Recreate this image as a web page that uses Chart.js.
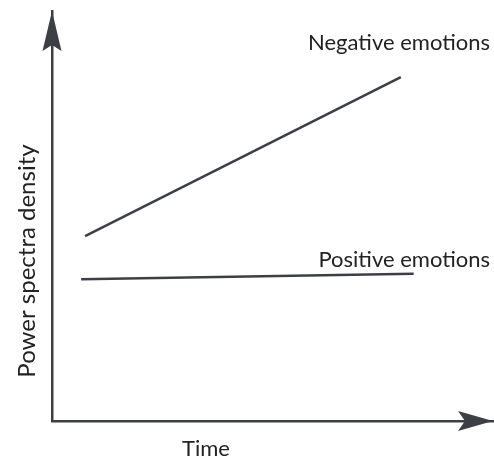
<!DOCTYPE html>
<html>
<head>
<meta charset="utf-8">
<script src="https://cdn.jsdelivr.net/npm/chart.js@4"></script>
<style>
  html, body { margin: 0; padding: 0; background: #fff; }
  #wrap { width: 494px; height: 460px; }
</style>
</head>
<body>
<div id="wrap"><canvas id="c" width="494" height="460"></canvas></div>
<script>
// schematic: two trends over time, axis values are arbitrary units 0..100
const seriesNames = ["Negative emotions", "Positive emotions"];
const negativeX = [7.5, 79.1];
const negativeY = [45.1, 83.9];
const positiveX = [6.6, 82.0];
const positiveY = [34.6, 35.9];
const xTitle = "Time";
const yTitle = "Power spectra density";

const INK = "#3c4045";
const FONT = "Lato, 'Open Sans', sans-serif";

const toPoints = (xs, ys) => xs.map((x, i) => ({ x, y: ys[i] }));

// arrowheads on the axis ends, series names and axis titles
const decorations = {
  id: "decorations",
  afterDraw(chart) {
    const { ctx, chartArea: a } = chart;
    ctx.save();
    ctx.fillStyle = INK;

    // y arrow (pointing up)
    const yx = a.left;
    ctx.beginPath();
    ctx.moveTo(yx, a.top);
    ctx.lineTo(yx + 9.5, a.top + 40);
    ctx.lineTo(yx, a.top + 34);
    ctx.lineTo(yx - 9.5, a.top + 40);
    ctx.closePath();
    ctx.fill();

    // x arrow (pointing right)
    const xy = a.bottom;
    ctx.beginPath();
    ctx.moveTo(a.right, xy);
    ctx.lineTo(a.right - 35, xy - 10);
    ctx.lineTo(a.right - 28, xy);
    ctx.lineTo(a.right - 35, xy + 10);
    ctx.closePath();
    ctx.fill();

    // series names, right aligned above each line end
    ctx.fillStyle = "#222";
    ctx.font = "22px " + FONT;
    ctx.textAlign = "right";
    ctx.textBaseline = "alphabetic";
    const lift = [27, 7];
    chart.data.datasets.forEach((ds, i) => {
      const pts = chart.getDatasetMeta(i).data;
      const end = pts[pts.length - 1];
      ctx.fillText(ds.label, a.right - 3, end.y - lift[i]);
    });

    // axis titles
    ctx.textAlign = "center";
    ctx.fillText(xTitle, 206, 456);
    ctx.save();
    ctx.translate(35, 261);
    ctx.rotate(-Math.PI / 2);
    ctx.font = "24px " + FONT;
    ctx.fillText(yTitle, 0, 0);
    ctx.restore();

    ctx.restore();
  }
};

const axisOpts = {
  type: "linear",
  min: 0,
  max: 100,
  grid: { display: false },
  ticks: { display: false },
  border: { display: true, color: INK, width: 2.5 },
  afterFit(scale) {
    if (scale.isHorizontal()) scale.height = 0; else scale.width = 0;
  }
};

new Chart(document.getElementById("c"), {
  type: "scatter",
  data: {
    datasets: [
      {
        label: seriesNames[0],
        data: toPoints(negativeX, negativeY),
        showLine: true,
        borderColor: INK,
        borderWidth: 2.5,
        pointRadius: 0
      },
      {
        label: seriesNames[1],
        data: toPoints(positiveX, positiveY),
        showLine: true,
        borderColor: INK,
        borderWidth: 2.5,
        pointRadius: 0
      }
    ]
  },
  options: {
    responsive: false,
    animation: false,
    layout: { padding: { left: 52, right: 1, top: 11, bottom: 39 } },
    scales: { x: axisOpts, y: axisOpts },
    plugins: {
      legend: { display: false },
      tooltip: { enabled: false }
    }
  },
  plugins: [decorations]
});
</script>
</body>
</html>
